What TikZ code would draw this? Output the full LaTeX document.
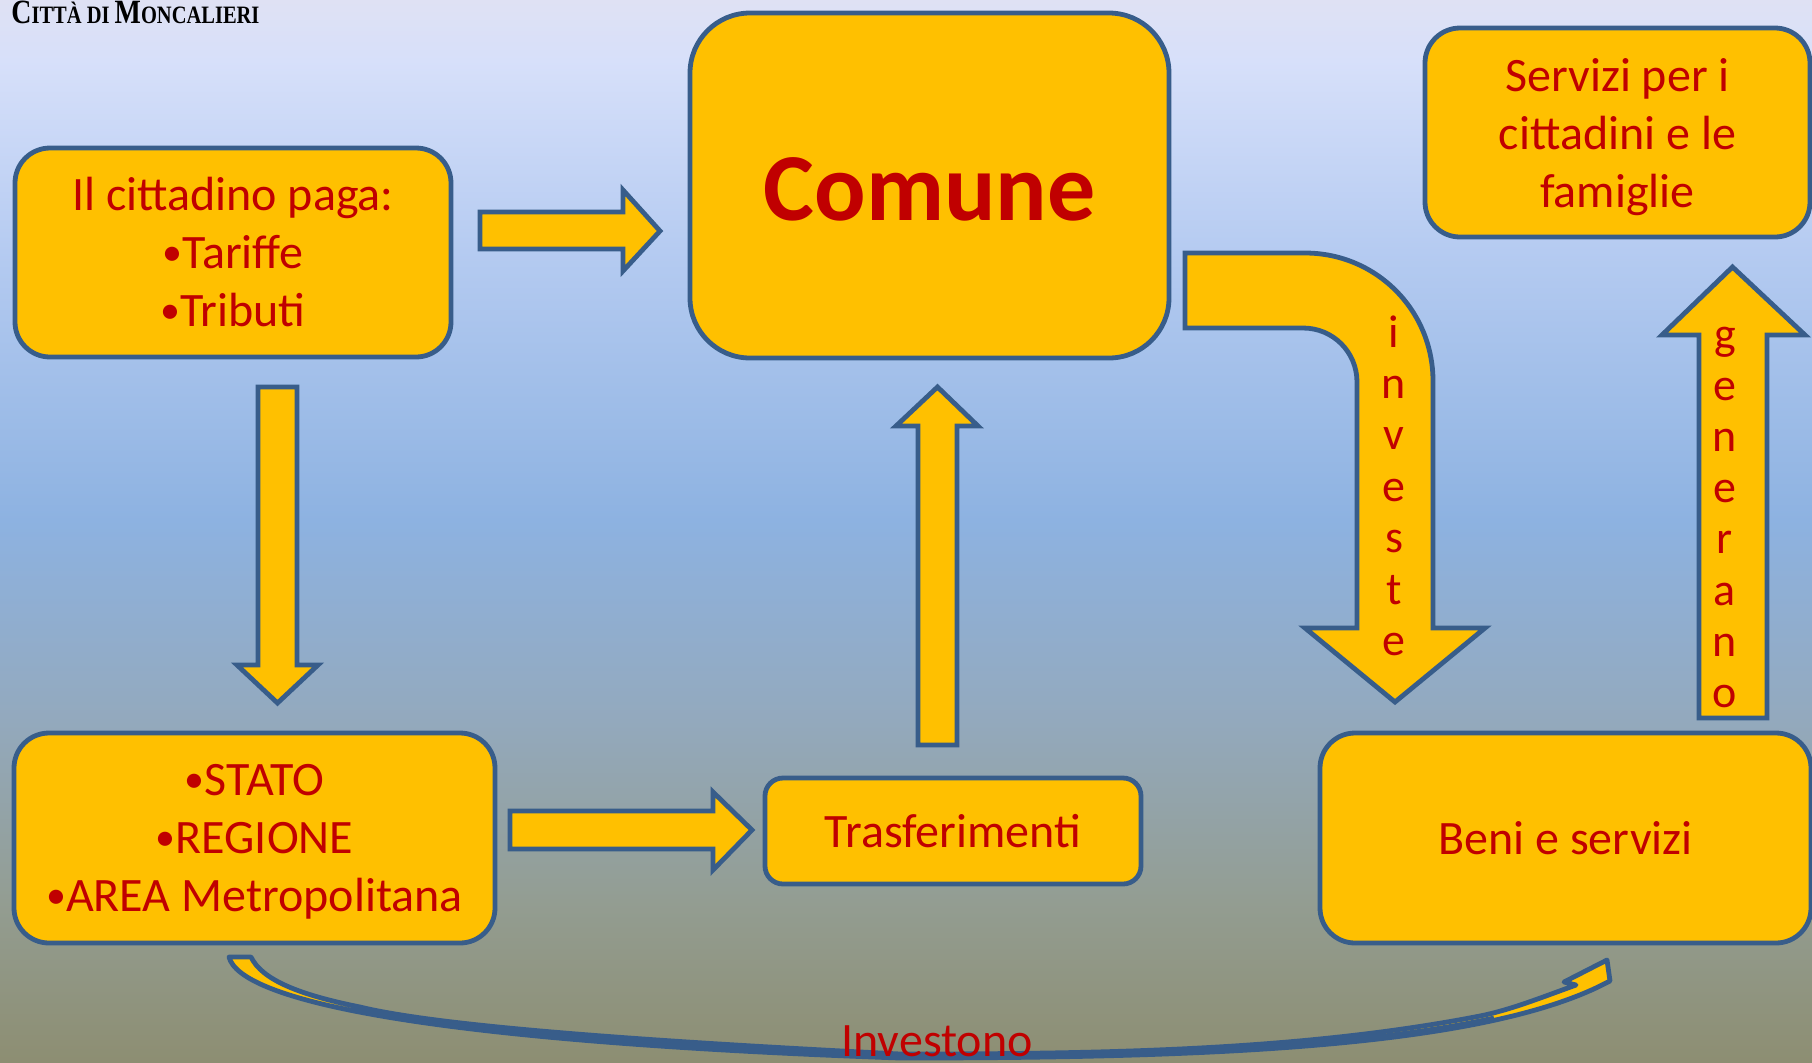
\documentclass[tikz,border=0pt]{standalone}
\usepackage{fontspec}
\setmainfont{Carlito}
\newfontfamily\hdrfont{Liberation Serif}
\usepackage{graphicx}
\definecolor{boxfill}{HTML}{FFC000}
\definecolor{bord}{HTML}{385D8A}
\definecolor{txtred}{HTML}{C00000}
\definecolor{bgA}{HTML}{DFE1F4}
\definecolor{bgB}{HTML}{D7E0FA}
\definecolor{bgC}{HTML}{B5CBF1}
\definecolor{bgD}{HTML}{8DB2E1}
\definecolor{bgE}{HTML}{93A9BD}
\definecolor{bgF}{HTML}{939D92}
\definecolor{bgG}{HTML}{8D8E72}
\newcommand\blt{\raisebox{1.5pt}{\fontsize{20}{20}\selectfont •}}
\newcommand\nodepth[1]{\raisebox{0pt}[\height][0pt]{#1}}
\begin{document}
\begin{tikzpicture}[x=0.5pt, y=-0.5pt,
  box/.style={draw=bord, fill=boxfill, line width=2.4pt, rounded corners=17.5pt, inner sep=0pt, align=center, text=txtred, font=\fontsize{24}{29}\selectfont},
  blockarrow/.style={draw=bord, fill=boxfill, line width=2.4pt, line join=miter},
  curvedarrow/.style={draw=bord, fill=boxfill, line width=2.4pt, line join=round},
  bandline/.style={draw=bord, line width=3.2pt},
  vlet/.style={text=txtred, font=\fontsize{23}{23}\selectfont, inner sep=0pt, anchor=base},
  lbl/.style={text=txtred, font=\fontsize{24}{29}\selectfont, inner sep=0pt, anchor=base}
]
\useasboundingbox (0,0) rectangle (1812,1062);
% background
\shade[top color=bgA, bottom color=bgB] (0,0) rectangle (1812,61);
\shade[top color=bgB, bottom color=bgC] (0,60) rectangle (1812,251);
\shade[top color=bgC, bottom color=bgD] (0,250) rectangle (1812,521);
\shade[top color=bgD, bottom color=bgE] (0,520) rectangle (1812,721);
\shade[top color=bgE, bottom color=bgF] (0,720) rectangle (1812,901);
\shade[top color=bgF, bottom color=bgG] (0,900) rectangle (1812,1062);

% header
\node[anchor=base west, inner sep=0pt] (hdr) at (11,23) {\scalebox{0.82}[1]{\hdrfont\bfseries{\fontsize{17}{17}\selectfont C}{\fontsize{12.5}{12.5}\selectfont ITTÀ DI }{\fontsize{17}{17}\selectfont M}{\fontsize{12.5}{12.5}\selectfont ONCALIERI}}};

% boxes
\node[box, minimum width=218pt, minimum height=104.5pt] (cit) at (233,252.5) {Il cittadino paga:\\\blt Tariffe\\\blt Tributi};
\node[box, rounded corners=30pt, minimum width=239.5pt, minimum height=172.5pt, font=\fontsize{48}{58}\selectfont\bfseries] (comune) at (929.5,185.5) {\raisebox{-1.75pt}[\height][\depth]{Comune}};
\node[box, minimum width=192.5pt, minimum height=104.5pt] (servizi) at (1617.5,132.5) {Servizi per i\\cittadini e le\\\nodepth{famiglie}};
\node[box, minimum width=240.5pt, minimum height=105pt] (stato) at (254.5,838) {\blt STATO\\\blt REGIONE\\\nodepth{\blt AREA Metropolitana}};
\node[box, rounded corners=9pt, minimum width=188pt, minimum height=53pt] (trasf) at (953,831) {Trasferimenti};
\node[box, minimum width=245.5pt, minimum height=105pt] (beni) at (1565.5,838) {Beni e servizi};

% block arrows
\filldraw[blockarrow] (480,212) -- (623,212) -- (623,190) -- (660,231) -- (623,271) -- (623,249) -- (480,249) -- cycle;
\filldraw[blockarrow] (258,387) -- (297,387) -- (297,665) -- (318,665) -- (277.5,703) -- (237,665) -- (258,665) -- cycle;
\filldraw[blockarrow] (918,745) -- (918,426) -- (896,426) -- (937.5,387) -- (978,426) -- (957,426) -- (957,745) -- cycle;
\filldraw[blockarrow] (510,811) -- (713,811) -- (713,792) -- (752,830) -- (713,870) -- (713,849) -- (510,849) -- cycle;
\filldraw[blockarrow] (1185,253) -- (1305,253) .. controls (1376,253) and (1433,310) .. (1433,381) -- (1433,628) -- (1485,628) -- (1395,702) -- (1305,628) -- (1357,628) -- (1357,382) .. controls (1357,352) and (1333,328) .. (1303,328) -- (1185,328) -- cycle;
\filldraw[blockarrow] (1699,718) -- (1699,335) -- (1662,335) -- (1732.5,267) -- (1805,335) -- (1767,335) -- (1767,718) -- cycle;

% curved arrow
\filldraw[curvedarrow] (229,957) .. controls (240,1000) and (420,1041) .. (900,1058)
  .. controls (1200,1058) and (1470,1048) .. (1598,987)
  -- (1610,981) -- (1607,960) -- (1564,982) -- (1576,985)
  .. controls (1540,998) and (1510,1010) .. (1480,1016)
  .. controls (1300,1051) and (1100,1054) .. (900,1054)
  .. controls (600,1039) and (430,1024) .. (360,1007)
  .. controls (300,995) and (262,980) .. (251,957) -- cycle;
\draw[bandline] (388.6,1015.75) .. controls (495,1033.5) and (660,1048) .. (900,1056.5)
  .. controls (1134,1056.5) and (1349.7,1050.4) .. (1494.1,1018.8);

% vertical labels
\foreach \c [count=\i] in {i,n,v,e,s,t,e}
  \node[vlet] (inv\i) at (1394,{347+51.4*(\i-1)}) {\c};
\foreach \c [count=\i] in {g,e,n,e,r,a,n,o}
  \node[vlet] (gen\i) at (1725,{349+51.2*(\i-1)}) {\c};

\node[lbl] (investono) at (937,1056) {Investono};
\end{tikzpicture}
\end{document}
